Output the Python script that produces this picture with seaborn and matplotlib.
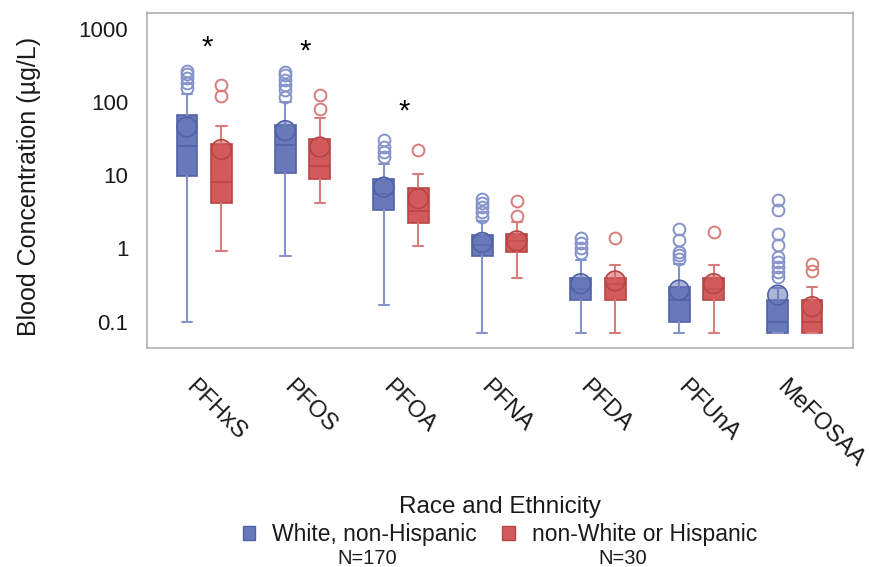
import numpy as np
import pandas as pd
import matplotlib
matplotlib.use("Agg")
import matplotlib.pyplot as plt
import matplotlib.transforms as mtransforms
from matplotlib.patches import Patch
import seaborn as sns

# ---------------- data ----------------
compounds = ["PFHxS", "PFOS", "PFOA", "PFNA", "PFDA", "PFUnA", "MeFOSAA"]
groups = ["White, non-Hispanic", "non-White or Hispanic"]
group_n = ["N=170", "N=30"]

white_q1 = [9.8, 10.9, 3.4, 0.79, 0.20, 0.10, 0.07]
white_med = [25, 26.4, 5.6, 1.10, 0.28, 0.20, 0.10]
white_q3 = [68, 49.4, 8.8, 1.52, 0.40, 0.30, 0.20]
white_lo = [0.10, 0.80, 0.17, 0.07, 0.07, 0.07, 0.07]
white_hi = [131, 100, 14.5, 2.4, 0.69, 0.62, 0.29]
white_mean = [46, 41, 6.9, 1.21, 0.33, 0.27, 0.23]
white_out = [[270, 245, 218, 186, 155],
             [257, 234, 199, 170, 145, 118],
             [30, 24.5, 21, 18],
             [4.8, 4.2, 3.7, 3.2, 2.7],
             [1.37, 1.17, 1.0, 0.86],
             [1.84, 1.30, 0.90, 0.81, 0.72],
             [4.67, 3.41, 1.60, 1.11, 0.77, 0.66, 0.56, 0.48, 0.41]]

red_q1 = [4.25, 8.8, 2.2, 0.90, 0.20, 0.20, 0.07]
red_med = [8.0, 13.3, 3.3, 1.27, 0.33, 0.28, 0.10]
red_q3 = [26.6, 31, 6.7, 1.60, 0.40, 0.40, 0.20]
red_lo = [0.91, 4.25, 1.09, 0.40, 0.07, 0.07, 0.07]
red_hi = [48, 61.6, 10.6, 2.3, 0.60, 0.60, 0.30]
red_mean = [22.6, 24.4, 4.8, 1.27, 0.36, 0.33, 0.16]
red_out = [[170, 120], [127, 81], [22.5], [4.47, 2.76], [1.41], [1.69], [0.62, 0.49]]

star_compounds = ["PFHxS", "PFOS", "PFOA"]
star_y = [560, 490, 74]

# ---------------- style ----------------
sns.set_style("white")
plt.rcParams["font.family"] = ["Liberation Sans", "DejaVu Sans"]

blue_fill, blue_edge, blue_line = "#6878b8", "#5062a8", "#8593cb"
red_fill, red_edge, red_line = "#d25a5a", "#b84545", "#d87c7c"
spine_col = "#b0b0b0"
text_col = "#1a1a1a"

fig = plt.figure(figsize=(8.69, 5.67), dpi=100)
W, H = 869, 567
ax = fig.add_axes([147 / W, 1 - 348 / H, (853 - 147) / W, (348 - 12.5) / H])

offset = 0.175
width = 0.21


def make_stats(q1, med, q3, lo, hi, mean, out):
    return [dict(q1=a, med=b, q3=c, whislo=d, whishi=e, mean=f, fliers=g)
            for a, b, c, d, e, f, g in zip(q1, med, q3, lo, hi, mean, out)]


series = [
    (make_stats(white_q1, white_med, white_q3, white_lo, white_hi, white_mean, white_out),
     -offset, blue_fill, blue_edge, blue_line),
    (make_stats(red_q1, red_med, red_q3, red_lo, red_hi, red_mean, red_out),
     offset, red_fill, red_edge, red_line),
]

pos_base = np.arange(len(compounds))
mean_rows = []
for (stats, off, fill, edge, line), grp, means in zip(series, groups, [white_mean, red_mean]):
    ax.bxp(stats, positions=pos_base + off, widths=width, patch_artist=True,
           showmeans=False, manage_ticks=False,
           boxprops=dict(facecolor=fill, edgecolor=edge, linewidth=1.2),
           medianprops=dict(color=edge, linewidth=1.2),
           whiskerprops=dict(color=line, linewidth=1.5),
           capprops=dict(color=line, linewidth=1.5),
           flierprops=dict(marker="o", markerfacecolor="none", markeredgecolor=line,
                           markersize=8.5, markeredgewidth=1.4))
    for p, m in zip(pos_base + off, means):
        mean_rows.append(dict(x=p, y=m, group=grp))

mean_df = pd.DataFrame(mean_rows)
sns.scatterplot(data=mean_df, x="x", y="y", hue="group", ax=ax,
                palette={groups[0]: blue_fill, groups[1]: red_fill},
                s=200, alpha=0.55, edgecolor=None, linewidth=0, legend=False, zorder=4)
sns.scatterplot(data=mean_df, x="x", y="y", hue="group", ax=ax,
                palette={groups[0]: blue_edge, groups[1]: red_edge},
                s=200, marker="o", linewidth=1.2, legend=False, zorder=5)
coll = ax.collections[-1]
coll.set_facecolor("none")
coll.set_edgecolor([blue_edge if g == groups[0] else red_edge for g in mean_df["group"]])

for c, yv in zip(star_compounds, star_y):
    ax.text(compounds.index(c) + 0.03, yv, "*", ha="center", va="center", fontsize=21,
            color="black")

ax.set_yscale("log")
ax.set_ylim(0.0435, 1690)
ax.set_xlim(-0.58, 6.59)
ax.set_yticks([0.1, 1, 10, 100, 1000])
ax.set_yticklabels(["0.1", "1", "10", "100", "1000"])
ax.yaxis.set_minor_locator(matplotlib.ticker.NullLocator())
ax.set_xticks(pos_base)
ax.set_xticklabels(compounds, rotation=-45, ha="left", va="center",
                   rotation_mode="anchor", fontsize=17)
ax.set_xlabel("")
ax.set_ylabel("Blood Concentration (µg/L)", fontsize=18, color=text_col,
              ha="center", va="center")
ax.yaxis.set_label_coords(29 / W, 1 - 186 / H, transform=fig.transFigure)

ax.tick_params(axis="both", direction="out", length=7.5, width=1, color=spine_col,
               labelcolor=text_col)
ax.tick_params(axis="y", pad=6, labelsize=16)
ax.tick_params(axis="x", pad=18.5)
offset_tr = mtransforms.ScaledTranslation(-15 / 100, 0 / 100, fig.dpi_scale_trans)
for lbl in ax.get_xticklabels():
    lbl.set_transform(lbl.get_transform() + offset_tr)

for s in ax.spines.values():
    s.set_color(spine_col)
    s.set_linewidth(1.2)
    s.set_visible(True)

handles = [Patch(facecolor=blue_fill, edgecolor=blue_edge, label=groups[0]),
           Patch(facecolor=red_fill, edgecolor=red_edge, label=groups[1])]
leg = fig.legend(handles=handles, loc="upper center", bbox_to_anchor=(500 / W, 1 - 485 / H),
                 ncol=2, frameon=False, fontsize=16.5, title="Race and Ethnicity",
                 title_fontsize=17.5, handlelength=0.55, handleheight=0.6,
                 handletextpad=0.75, columnspacing=1.1, borderpad=0.0, labelspacing=0.2)
for t in leg.get_texts():
    t.set_color(text_col)
leg.get_title().set_color(text_col)

for xpx, txt in zip([367, 623], group_n):
    fig.text(xpx / W, 1 - 558 / H, txt, ha="center", va="center", fontsize=14.5,
             color=text_col)

fig.savefig("out.png", dpi=100)
